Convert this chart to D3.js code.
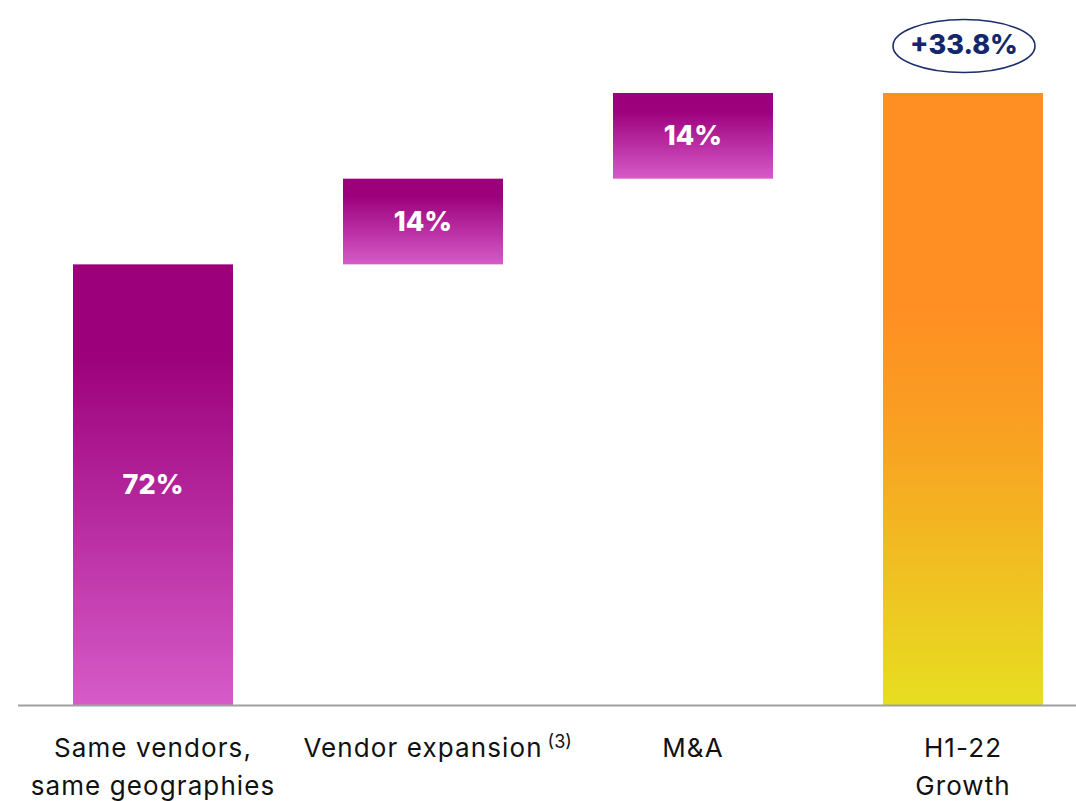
<!DOCTYPE html>
<html>
<head>
<meta charset="utf-8">
<script src="https://cdn.jsdelivr.net/npm/d3@7"></script>
<style>
  html, body { margin: 0; padding: 0; background: #fff; }
  svg { display: block; }
  text { font-family: Inter, "Open Sans", "Noto Sans", sans-serif; }
</style>
</head>
<body>
<svg id="chart" width="1076" height="801"></svg>
<script>
// Growth bridge: contributions to H1-22 growth
const categories = ["same", "vendor", "ma", "total"];
const categoryLines = [
  ["Same vendors,", "same geographies"],
  ["Vendor expansion"],
  ["M&A"],
  ["H1-22", "Growth"]
];
const categoryNotes = ["", "(3)", "", ""];
const contributions = [72, 14, 14, 100];   // share of growth, %
const isTotal = [false, false, false, true];
const valueLabels = ["72%", "14%", "14%", ""];
const headline = "+33.8%";

const svg = d3.select("#chart");
const W = 1076, H = 801;

// running start/end of each step of the bridge
let running = 0;
const steps = contributions.map((v, i) => {
  if (isTotal[i]) return { cat: categories[i], start: 0, end: v, i };
  const s = { cat: categories[i], start: running, end: running + v, i };
  running += v;
  return s;
});

const x = d3.scaleBand()
  .domain(categories)
  .range([18, 1098])
  .paddingInner(110 / 270)
  .paddingOuter(55 / 270);

const y = d3.scaleLinear().domain([0, 100]).range([705, 93]);

// gradients
const defs = svg.append("defs");
const purple = defs.append("linearGradient")
  .attr("id", "gPurple").attr("x1", 0).attr("y1", 0).attr("x2", 0).attr("y2", 1);
purple.append("stop").attr("offset", 0).attr("stop-color", "#9c007b");
purple.append("stop").attr("offset", 0.2).attr("stop-color", "#9c007b");
purple.append("stop").attr("offset", 1).attr("stop-color", "#d65bc9");

const orange = defs.append("linearGradient")
  .attr("id", "gOrange").attr("x1", 0).attr("y1", 0).attr("x2", 0).attr("y2", 1);
orange.append("stop").attr("offset", 0).attr("stop-color", "#ff8f22");
orange.append("stop").attr("offset", 0.36).attr("stop-color", "#ff8f22");
orange.append("stop").attr("offset", 0.55).attr("stop-color", "#f9a022");
orange.append("stop").attr("offset", 1).attr("stop-color", "#e7de21");

// bars
svg.append("g").selectAll("rect")
  .data(steps)
  .join("rect")
  .attr("x", d => x(d.cat))
  .attr("width", x.bandwidth())
  .attr("y", d => y(d.end))
  .attr("height", d => y(d.start) - y(d.end))
  .attr("fill", d => isTotal[d.i] ? "url(#gOrange)" : "url(#gPurple)");

// value labels inside bars
svg.append("g").selectAll("text")
  .data(steps.filter(d => valueLabels[d.i]))
  .join("text")
  .attr("x", d => x(d.cat) + x.bandwidth() / 2)
  .attr("y", d => (y(d.start) + y(d.end)) / 2 + 9)
  .attr("text-anchor", "middle")
  .attr("fill", "#fff")
  .attr("font-size", 27)
  .attr("font-weight", 800)
  .text(d => valueLabels[d.i]);

// baseline
svg.append("line")
  .attr("x1", 18).attr("x2", W)
  .attr("y1", y(0) + 0.5).attr("y2", y(0) + 0.5)
  .attr("stroke", "#a0a0a0").attr("stroke-width", 2);

// category labels (main text centred under the bar, footnote marker trailing)
const labels = svg.append("g").selectAll("g")
  .data(categories)
  .join("g")
  .attr("transform", c => `translate(${x(c) + x.bandwidth() / 2},0)`);

labels.each(function (c, i) {
  const g = d3.select(this);
  categoryLines[i].forEach((line, k) => {
    const t = g.append("text")
      .attr("x", 0)
      .attr("y", 757 + k * 38)
      .attr("text-anchor", "middle")
      .attr("fill", "#111")
      .attr("font-size", 26)
      .attr("letter-spacing", 1.1)
      .text(line);
    if (k === 0 && categoryNotes[i]) {
      const w = t.node().getComputedTextLength();
      g.append("text")
        .attr("x", w / 2 + 5)
        .attr("y", 757 - 9)
        .attr("fill", "#111")
        .attr("font-size", 18)
        .text(categoryNotes[i]);
    }
  });
});

// headline growth badge over the total bar
const total = steps[steps.length - 1];
const cx = x(total.cat) + x.bandwidth() / 2 + 1;
svg.append("ellipse")
  .attr("cx", cx).attr("cy", 46)
  .attr("rx", 71).attr("ry", 26.5)
  .attr("fill", "#fff")
  .attr("stroke", "#1b2d6b").attr("stroke-width", 1.6);
svg.append("text")
  .attr("x", cx).attr("y", 54)
  .attr("text-anchor", "middle")
  .attr("fill", "#13276a")
  .attr("font-size", 27)
  .attr("font-weight", 800)
  .text(headline);
</script>
</body>
</html>
